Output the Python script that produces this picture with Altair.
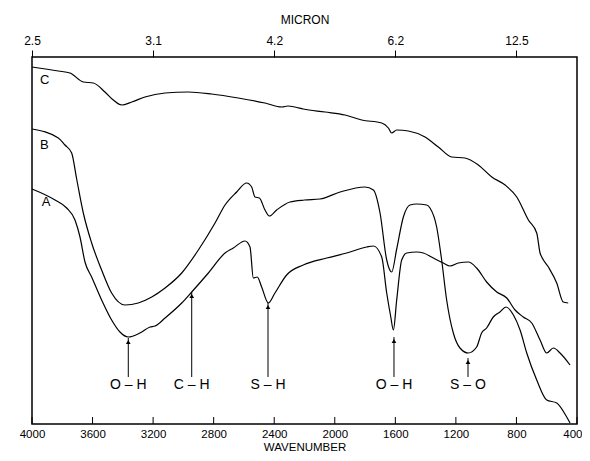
import altair as alt
import pandas as pd

# ---------------- data ----------------
wn_C = [4000, 3826, 3749, 3661, 3595, 3518, 3463, 3408, 3341, 3254, 3121, 2967, 2813, 2637,
        2461, 2350, 2309, 2263, 2208, 2064, 1932, 1822, 1690, 1646, 1624, 1591, 1514, 1404,
        1316, 1227, 1140, 1052, 963, 875, 798, 721, 666, 644, 633, 589, 534, 491, 458]
refl_C = [357, 353, 351, 342, 341, 332, 324, 319, 322, 327, 331, 332, 330, 326,
          321, 317, 318, 317, 315, 312, 309, 304, 301, 296, 291, 294, 293, 287,
          277, 267, 266, 259, 247, 239, 227, 204, 191, 171, 167, 157, 141, 122, 121]

wn_B = [4000, 3826, 3782, 3738, 3705, 3661, 3606, 3540, 3474, 3386, 3298, 3209, 3121, 3011,
        2901, 2791, 2725, 2648, 2582, 2549, 2527, 2498, 2461, 2432, 2384, 2296, 2200, 2098,
        1965, 1800, 1745, 1701, 1657, 1624, 1591, 1547, 1503, 1459, 1393, 1371, 1327, 1294,
        1261, 1217, 1173, 1118, 1063, 1030, 997, 953, 909, 869, 820, 776, 732, 666, 600,
        534, 468, 446]
refl_B = [295, 286, 279, 271, 245, 211, 181, 154, 131, 119, 121, 127, 136, 151,
          174, 201, 219, 232, 241, 237, 227, 226, 214, 208, 214, 222, 224, 225,
          232, 237, 234, 211, 164, 152, 175, 207, 219, 220, 219, 216, 197, 164,
          124, 91, 76, 71, 77, 91, 96, 107, 112, 117, 109, 94, 71, 44, 24,
          21, 7, 1]

wn_A = [4000, 3848, 3771, 3716, 3683, 3650, 3606, 3540, 3474, 3419, 3364, 3287, 3220, 3187,
        3121, 3011, 2945, 2835, 2725, 2670, 2593, 2560, 2538, 2512, 2483, 2439, 2395, 2318,
        2208, 2053, 1921, 1789, 1745, 1690, 1657, 1630, 1613, 1591, 1558, 1525, 1459, 1415,
        1349, 1283, 1239, 1184, 1118, 1063, 997, 930, 864, 809, 755, 699, 644, 600, 556,
        512, 446]
refl_A = [235, 224, 216, 204, 187, 162, 147, 124, 104, 92, 87, 91, 97, 98,
          106, 121, 132, 151, 171, 176, 183, 177, 146, 147, 137, 121, 131, 149,
          159, 166, 171, 177, 178, 167, 131, 107, 94, 124, 164, 171, 172, 171,
          166, 161, 158, 161, 162, 156, 142, 132, 126, 114, 107, 101, 84, 71, 76,
          71, 59]

series_names = ["A", "B", "C"]
series_label_wn = [3935, 3947, 3947]
series_label_refl = [222, 279, 344]

bond_labels = ["O – H", "C – H", "S – H", "O – H", "S – O"]
bond_wn = [3364, 2945, 2441, 1609, 1120]
bond_tip = [86, 132, 121, 87, 66]

wn_ticks = [4000, 3600, 3200, 2800, 2400, 2000, 1600, 1200, 800, 400]
micron_pos = [4000, 3200, 2400, 1600, 800]
micron_labels = ["2.5", "3.1", "4.2", "6.2", "12.5"]

# ---------------- tables ----------------
rows = []
for name, wns, rs in [("A", wn_A, refl_A), ("B", wn_B, refl_B), ("C", wn_C, refl_C)]:
    for w, r in zip(wns, rs):
        rows.append({"series": name, "wn": w, "refl": r})
df = pd.DataFrame(rows)

df_series = pd.DataFrame({"series": series_names, "wn": series_label_wn, "refl": series_label_refl})
ARROW_TAIL = 47
LABEL_Y = 39
df_bonds = pd.DataFrame({"label": bond_labels, "wn": bond_wn, "tip": bond_tip,
                         "tail": [ARROW_TAIL] * len(bond_wn), "ly": [LABEL_Y] * len(bond_wn)})
df_ticks = pd.DataFrame({"wn": wn_ticks})
df_micron = pd.DataFrame({"wn": micron_pos, "refl": [0] * len(micron_pos)})

FONT = "Liberation Sans"
W, H = 545, 367

x_scale = alt.Scale(domain=[400, 4000], reverse=True, nice=False, zero=False)
y_scale = alt.Scale(domain=[0, 367], nice=False, zero=False)

label_expr = ""
for p, l in zip(micron_pos, micron_labels):
    label_expr += f"datum.value == {p} ? '{l}' : "
label_expr += "''"

last_tick = wn_ticks[-1]
bottom_axis = alt.Axis(values=wn_ticks, title="WAVENUMBER", ticks=False, domain=False, grid=False,
                       labelPadding=4, labelFontSize=11.5, titleFontSize=11.5,
                       titleY=26, titleBaseline="alphabetic",
                       labelAlign={"expr": f"datum.value == {last_tick} ? 'right' : 'center'"},
                       labelOffset={"expr": f"datum.value == {last_tick} ? 5 : 0"},
                       titleFontWeight="normal", labelFont=FONT, titleFont=FONT,
                       labelColor="black", titleColor="black", labelFlush=False, format="d")
top_axis = alt.Axis(values=micron_pos, orient="top", title="MICRON", labelExpr=label_expr,
                    ticks=True, tickSize=7, tickColor="black", tickWidth=1, domain=False, grid=False,
                    labelPadding=3, titlePadding=8, labelFontSize=12, titleFontSize=12,
                    titleFontWeight="normal", labelFont=FONT, titleFont=FONT,
                    labelColor="black", titleColor="black", labelFlush=False)
y_axis = alt.Axis(title="REFLECTANCE", labels=False, ticks=False, domain=False, grid=False,
                  titleFontSize=12, titleFontWeight="normal", titleFont=FONT, titleColor="black",
                  titlePadding=4)

lines = alt.Chart(df).mark_line(color="black", strokeWidth=1.2, interpolate="monotone").encode(
    x=alt.X("wn:Q", scale=x_scale, axis=bottom_axis),
    y=alt.Y("refl:Q", scale=y_scale, axis=y_axis),
    detail="series:N",
)

top = alt.Chart(df_micron).mark_point(opacity=0).encode(
    x=alt.X("wn:Q", scale=x_scale, axis=top_axis),
    y=alt.Y("refl:Q", scale=y_scale, axis=None),
)

ticks = alt.Chart(df_ticks).mark_rule(color="black", strokeWidth=1).encode(
    x=alt.X("wn:Q", scale=x_scale, axis=None),
    y=alt.value(H),
    y2=alt.value(H - 7),
)

series_text = alt.Chart(df_series).mark_text(font=FONT, fontSize=13, color="black", align="left",
                                             baseline="middle").encode(
    x=alt.X("wn:Q", scale=x_scale, axis=None),
    y=alt.Y("refl:Q", scale=y_scale, axis=None),
    text="series:N",
)

arrows = alt.Chart(df_bonds).mark_rule(color="black", strokeWidth=1).encode(
    x=alt.X("wn:Q", scale=x_scale, axis=None),
    y=alt.Y("tail:Q", scale=y_scale, axis=None),
    y2="tip:Q",
)
heads = alt.Chart(df_bonds).mark_point(shape="triangle-up", filled=True, color="black", size=22,
                                       opacity=1).encode(
    x=alt.X("wn:Q", scale=x_scale, axis=None),
    y=alt.Y("tip:Q", scale=y_scale, axis=None),
    yOffset=alt.value(4),
)
bond_text = alt.Chart(df_bonds).mark_text(font=FONT, fontSize=14, color="black",
                                          baseline="middle").encode(
    x=alt.X("wn:Q", scale=x_scale, axis=None),
    y=alt.Y("ly:Q", scale=y_scale, axis=None),
    text="label:N",
)

chart = alt.layer(lines, top, ticks, series_text, arrows, heads, bond_text).resolve_axis(
    x="independent"
).properties(
    width=W, height=H,
    autosize=alt.AutoSizeParams(type="none"),
    padding={"left": 24, "top": 49, "right": 5, "bottom": 29},
    background="white",
).configure_view(stroke="black", strokeWidth=1.5)

chart.save("out.html", embed_options={"renderer": "svg", "actions": False})
